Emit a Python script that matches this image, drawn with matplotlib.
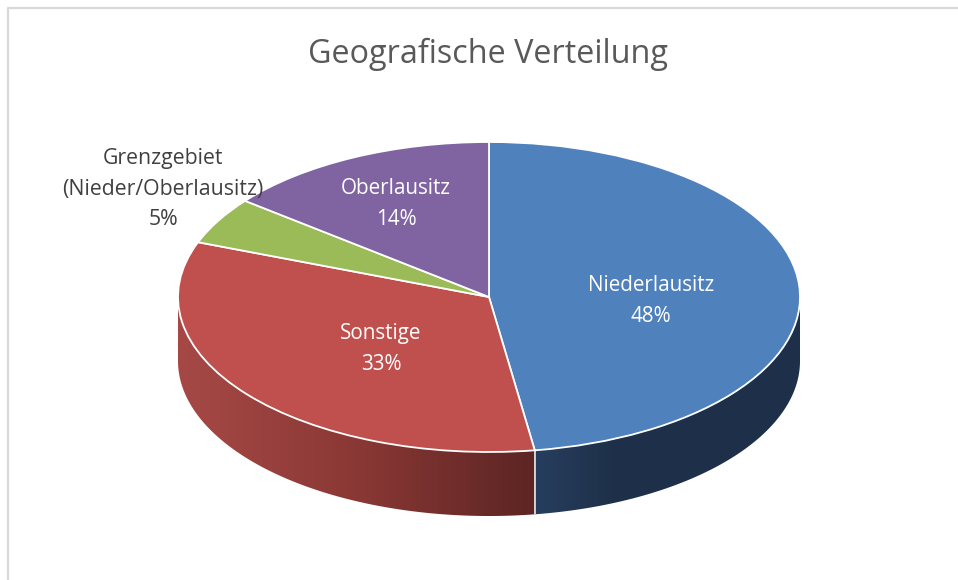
import numpy as np
import matplotlib
matplotlib.use("Agg")
import matplotlib.pyplot as plt
from matplotlib.colors import LinearSegmentedColormap
from matplotlib.lines import Line2D
from matplotlib.patches import Polygon

plt.rcParams['font.family'] = ['Open Sans', 'DejaVu Sans']

categories = ['Niederlausitz', 'Sonstige', 'Grenzgebiet\n(Nieder/Oberlausitz)', 'Oberlausitz']
shares = [47.65, 33.1, 4.9, 14.35]
percent_labels = ['48%', '33%', '5%', '14%']
top_colors = ['#4F81BD', '#C0504D', '#9BBB59', '#8064A2']
title = 'Geografische Verteilung'

W, H = 958, 580
CX, CY, RX, RY, DEPTH = 489, 297, 311, 155, 64

fig = plt.figure(figsize=(W / 100, H / 100), dpi=100, facecolor='white')
ax = fig.add_axes([0, 0, 1, 1])


def px(x, y):
    return (x - CX) / RX, (CY - y) / RY


wedges, _ = ax.pie(shares, startangle=90, counterclock=False, colors=top_colors,
                   wedgeprops=dict(edgecolor='white', linewidth=1.3))
ax.set_aspect('auto')
for w in wedges:
    w.set_zorder(4)

d = DEPTH / RY
side_ramps = {
    0: [(0.0, '#263E5E'), (0.3, '#1E3049'), (1.0, '#1E3049')],
    1: [(0.0, '#A64946'), (0.5, '#8A3835'), (1.0, '#5C2523')],
}
for i, ramp in side_ramps.items():
    w = wedges[i]
    a1, a2 = max(w.theta1, -180), min(w.theta2, 0)
    t = np.radians(np.linspace(a1, a2, 200))
    xs, ys = np.cos(t), np.sin(t)
    poly = np.vstack([np.column_stack([xs, ys]), np.column_stack([xs[::-1], ys[::-1] - d])])
    patch = Polygon(poly, closed=True, facecolor='none', edgecolor='none', transform=ax.transData)
    ax.add_patch(patch)
    cmap = LinearSegmentedColormap.from_list(f'side{i}', ramp)
    im = ax.imshow(np.linspace(0, 1, 256)[None, :], cmap=cmap, aspect='auto', zorder=2,
                   extent=(xs.min(), xs.max(), ys.min() - d - .02, ys.max() + .02), interpolation='bilinear')
    im.set_clip_path(patch)

# white seam between the two visible side faces
bt = np.radians(wedges[0].theta1)
ax.plot([np.cos(bt)] * 2, [np.sin(bt), np.sin(bt) - d], color='#E8E8E8', lw=1.2, zorder=3,
        solid_capstyle='butt')

ax.set_xlim(-CX / RX, (W - CX) / RX)
ax.set_ylim((CY - H) / RY, CY / RY)
ax.axis('off')

ax.text(*px(488, 54), title, ha='center', va='center', fontsize=23.3, color='#595959', zorder=6)

label_pos = [(651, 301), (381, 349), (163, 189), (396, 204)]
label_col = ['white', 'white', '#404040', 'white']
label_size = [14.9, 14.9, 15.3, 14.9]
for name, pct, (lx, ly), c, fs in zip(categories, percent_labels, label_pos, label_col, label_size):
    ax.text(*px(lx, ly), f'{name}\n{pct}', ha='center', va='center', fontsize=fs,
            linespacing=1.58, color=c, zorder=6)

# frame of the pasted chart: only the top and left edges are inside the picture
fig.add_artist(Line2D([1, 7.5 / W, 7.5 / W], [1 - 7.5 / H, 1 - 7.5 / H, 0], color='#D9D9D9', lw=1.6,
                      transform=fig.transFigure))

fig.savefig('out.png', dpi=100)
